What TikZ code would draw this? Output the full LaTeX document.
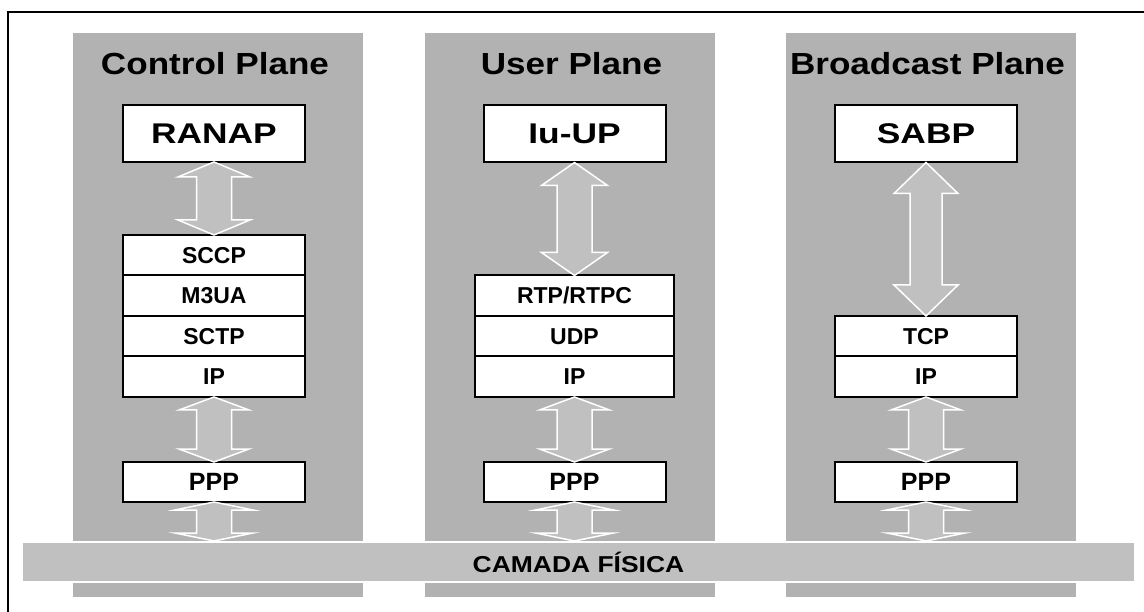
\documentclass[tikz,border=0pt]{standalone}
\usepackage{fontspec}
\setsansfont{Liberation Sans}
\newfontfamily\widesans{Liberation Sans}[FakeStretch=1.15]
\newfontfamily\widersans{Liberation Sans}[FakeStretch=1.24]
\usetikzlibrary{positioning,calc}
\definecolor{planegray}{RGB}{178,178,178}
\definecolor{linkgray}{RGB}{192,192,192}

% double arrow between two stacked nodes
\newcommand{\layerlink}[5]{% upper node/lower node/head length/head half width/shaft half width
  \draw[duplex] let \p1=(#1.south), \p2=(#2.north) in
    (\x1,\y1) -- ({\x1+#4pt},{\y1-#3pt}) -- ({\x1+#5pt},{\y1-#3pt})
    -- ({\x1+#5pt},{\y2+#3pt}) -- ({\x1+#4pt},{\y2+#3pt}) -- (\x1,\y2)
    -- ({\x1-#4pt},{\y2+#3pt}) -- ({\x1-#5pt},{\y2+#3pt})
    -- ({\x1-#5pt},{\y1-#3pt}) -- ({\x1-#4pt},{\y1-#3pt}) -- cycle;}

\begin{document}
\begin{tikzpicture}[x=1pt,y=-1pt,
      plane/.style={fill=planegray},
      planetitle/.style={
         anchor=base,
         font=\widesans\bfseries\fontsize{30.5}{36}\selectfont},
      protocol/.style={
         draw=black,
         fill=white,
         line width=2pt,
         minimum width=182pt,
         minimum height=57pt,
         inner sep=0pt,
         outer sep=0pt,
         font=\widersans\bfseries\fontsize{28.5}{34}\selectfont},
      layer/.style={
         draw=black,
         fill=white,
         line width=2pt,
         minimum width=182pt,
         minimum height=40.5pt,
         inner sep=0pt,
         outer sep=0pt,
         font=\sffamily\bfseries\fontsize{23}{27}\selectfont},
      framing/.style={layer,minimum height=40pt,
         font=\sffamily\bfseries\fontsize{25}{30}\selectfont},
      physical/.style={
         draw=white,
         fill=linkgray,
         line width=2pt,
         minimum width=1113pt,
         minimum height=40pt,
         inner sep=0pt,
         font=\widesans\bfseries\fontsize{23}{27}\selectfont},
      duplex/.style={draw=white,line width=1.5pt,fill=linkgray},
      node distance=0pt
      ]
      \useasboundingbox (0,0) rectangle (1144,612);
      \draw[line width=2pt] (7.5,12.5) rectangle (1170,640);

      \foreach \x in {73,425,786}
         \fill[plane] (\x,33) rectangle ++(290,564);

      \node[planetitle] (cptitle) at (215,75) {Control Plane};
      \node[planetitle] (uptitle) at (571.5,75) {User Plane};
      \node[planetitle] (bptitle) at (927.5,75) {Broadcast Plane};

      \node[protocol] (ranap) at (214,133.5) {RANAP};
      \node[protocol] (iuup) at (574.5,134) {Iu-UP};
      \node[protocol] (sabp) at (926,134) {SABP};

      \node[layer] (cpip) at (214,376.75) {IP};
      \node[layer,above=of cpip] (sctp) {SCTP};
      \node[layer,above=of sctp] (m3ua) {M3UA};
      \node[layer,above=of m3ua] (sccp) {SCCP};

      \node[layer,minimum width=199pt] (upip) at (574.5,376.75) {IP};
      \node[layer,minimum width=199pt,above=of upip] (udp) {UDP};
      \node[layer,minimum width=199pt,above=of udp] (rtp) {RTP/RTPC};

      \node[layer] (bpip) at (926,376.75) {IP};
      \node[layer,above=of bpip] (tcp) {TCP};

      \node[framing,below=65pt of cpip.south,anchor=north] (cpppp) {PPP};
      \node[framing,below=65pt of bpip.south,anchor=north] (bpppp) {PPP};
      \node[framing,anchor=north] (upppp) at ($(upip.south)+(0,65)$) {PPP};

      \node[physical] (phy) at (578.5,562) {CAMADA FÍSICA};

      \layerlink{ranap}{sccp}{15}{36}{17.5}
      \layerlink{iuup}{rtp}{23}{33}{17.5}
      \layerlink{sabp}{tcp}{31}{32}{16}
      \foreach \a/\b in {cpip/cpppp,upip/upppp,bpip/bpppp}
         \layerlink{\a}{\b}{13}{35}{17.5};
      \foreach \a in {cpppp,upppp,bpppp}
         \layerlink{\a}{phy}{8}{39}{17.5};

\end{tikzpicture}
\end{document}
